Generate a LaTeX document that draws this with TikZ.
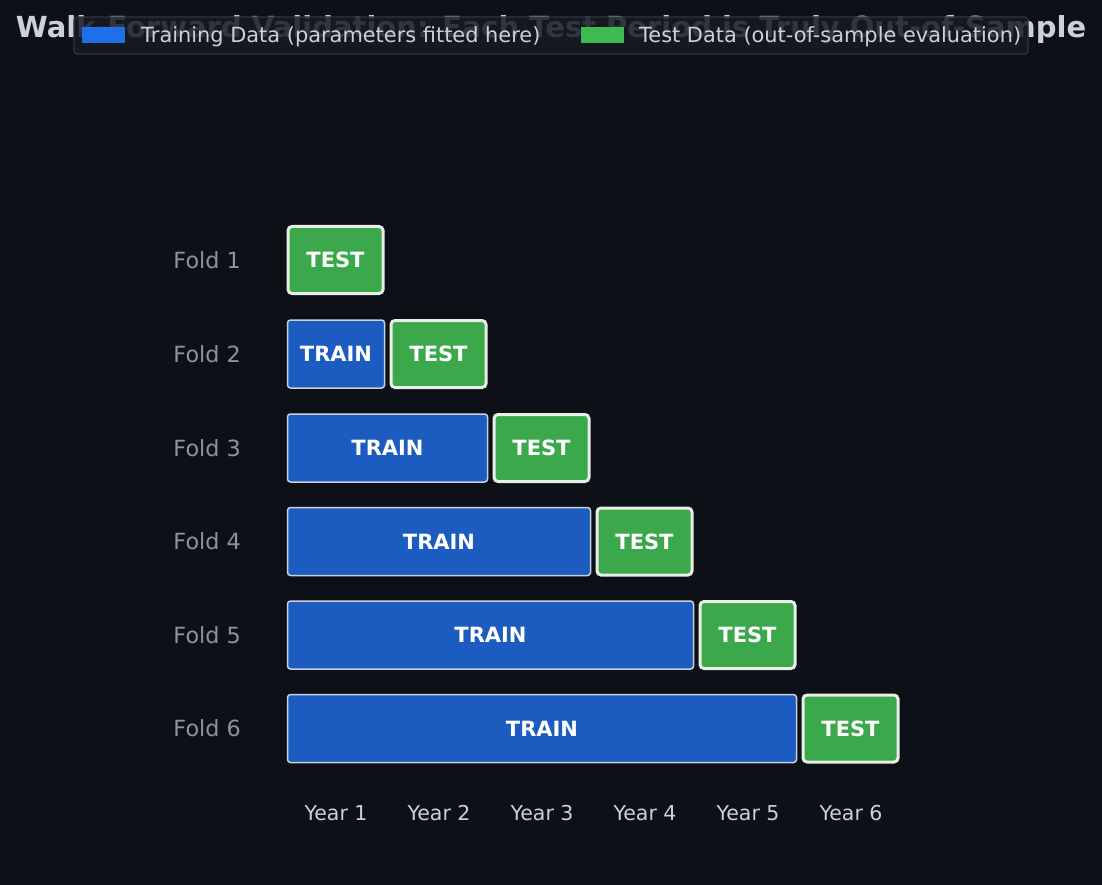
\documentclass[tikz,border=0pt]{standalone}
\usepackage{fontspec}
\setmainfont{DejaVu Sans}
\definecolor{bg}{HTML}{0D1117}
\definecolor{titlec}{HTML}{C9D1D9}
\definecolor{legfill}{HTML}{161B22}
\definecolor{legedge}{HTML}{30363D}
\definecolor{trainfill}{HTML}{1C5BBF}
\definecolor{trainedge}{HTML}{C9D1D9}
\definecolor{testfill}{HTML}{3BA84B}
\definecolor{testedge}{HTML}{E8EEE8}
\definecolor{legtrain}{HTML}{1F6FEB}
\definecolor{legtest}{HTML}{3FB950}
\definecolor{foldc}{HTML}{8B949E}
\definecolor{yearc}{HTML}{C9D1D9}
\begin{document}
\begin{tikzpicture}[x=1pt,y=-1pt,
  trainbox/.style={draw=trainedge, line width=1.5pt, fill=trainfill, rounded corners=3pt,
    minimum height=68pt, inner sep=0pt, text=white, font=\bfseries\fontsize{21}{25}\selectfont},
  testbox/.style={draw=testedge, line width=3pt, fill=testfill, rounded corners=4pt,
    minimum height=67pt, inner sep=0pt, text=white, font=\bfseries\fontsize{21}{25}\selectfont},
  foldlabel/.style={anchor=east, text=foldc, font=\fontsize{22.3}{26}\selectfont, inner sep=0pt},
  yearlabel/.style={text=yearc, font=\fontsize{20.5}{24}\selectfont, inner sep=0pt},
  legtext/.style={anchor=west, text=titlec, font=\fontsize{20.9}{25}\selectfont, inner sep=0pt},
  legpatch/.style={minimum width=43pt, minimum height=16pt, inner sep=0pt}]
\fill[bg] (0,0) rectangle (1102,885);
\useasboundingbox (0,0) rectangle (1102,885);
% title
\node[text=titlec, font=\bfseries\fontsize{29}{34}\selectfont] (title) at (551,29.5) {Walk-Forward Validation: Each Test Period is Truly Out-of-Sample};
% legend
\node[draw=legedge, line width=1.2pt, fill=legfill, fill opacity=0.85, rounded corners=3pt,
  minimum width=954pt, minimum height=37pt, inner sep=0pt] (legend) at (551,35.5) {};
\node[legpatch, fill=legtrain] (ltrain) at (103.5,35) {};
\node[legtext] (ltraint) at (141,37) {Training Data (parameters fitted here)};
\node[legpatch, fill=legtest] (ltest) at (602,35) {};
\node[legtext] (ltestt) at (639,37) {Test Data (out-of-sample evaluation)};
% folds
\foreach \i/\y in {1/260,2/354,3/448,4/541.5,5/635,6/728.5}{
  \node[foldlabel] (fold\i) at (241,\y) {Fold \i};
  \pgfmathsetmacro{\tx}{287+103*(\i-1)}
  \pgfmathsetmacro{\tc}{\tx+48.5}
  \node[testbox, minimum width=95pt] (test\i) at (\tc,\y) {TEST};
  \ifnum\i>1
    \pgfmathsetmacro{\re}{384.5+103*(\i-2)}
    \pgfmathsetmacro{\rw}{\re-287.5}
    \pgfmathsetmacro{\rc}{(\re+287.5)/2}
    \node[trainbox, minimum width=\rw pt] (train\i) at (\rc,\y) {TRAIN};
  \fi
}
% years
\foreach \k in {1,...,6}{
  \pgfmathsetmacro{\yx}{336+103*(\k-1)}
  \node[yearlabel] (year\k) at (\yx,813) {Year \k};
}
\end{tikzpicture}
\end{document}
